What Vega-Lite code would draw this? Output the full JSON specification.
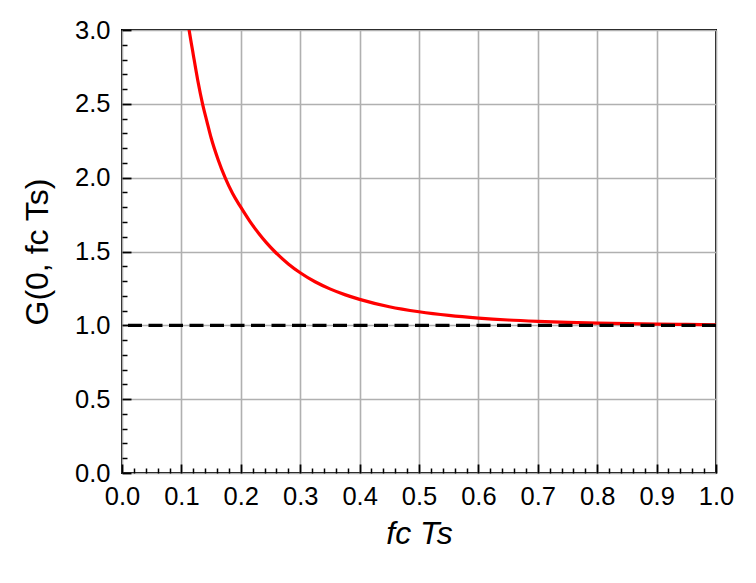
{
  "$schema": "https://vega.github.io/schema/vega-lite/v6.json",
  "width": 594,
  "height": 443,
  "autosize": {"type": "none"},
  "padding": {"left": 122, "top": 30, "right": 40, "bottom": 110},
  "background": "white",
  "config": {
    "font": "Liberation Sans",
    "view": {"stroke": "black", "strokeWidth": 2},
    "axis": {
      "domain": false,
      "labelFont": "Liberation Sans",
      "labelFontSize": 25.5,
      "labelColor": "black",
      "titleFont": "Liberation Sans",
      "titleColor": "black",
      "titleFontWeight": "normal",
      "tickColor": "black"
    }
  },
  "datasets": {
    "curve": [
      {"fcTs": 0.110, "G": 3.08},
      {"fcTs": 0.113, "G": 3.0},
      {"fcTs": 0.12, "G": 2.833},
      {"fcTs": 0.1275, "G": 2.66},
      {"fcTs": 0.1356, "G": 2.5},
      {"fcTs": 0.143, "G": 2.38},
      {"fcTs": 0.15, "G": 2.27},
      {"fcTs": 0.162, "G": 2.12},
      {"fcTs": 0.1736, "G": 2.0},
      {"fcTs": 0.186, "G": 1.894},
      {"fcTs": 0.2, "G": 1.8},
      {"fcTs": 0.215, "G": 1.706},
      {"fcTs": 0.23, "G": 1.624},
      {"fcTs": 0.243, "G": 1.56},
      {"fcTs": 0.257, "G": 1.5},
      {"fcTs": 0.28, "G": 1.416},
      {"fcTs": 0.3, "G": 1.356},
      {"fcTs": 0.325, "G": 1.295},
      {"fcTs": 0.35, "G": 1.247},
      {"fcTs": 0.375, "G": 1.208},
      {"fcTs": 0.4, "G": 1.176},
      {"fcTs": 0.45, "G": 1.126},
      {"fcTs": 0.5, "G": 1.092},
      {"fcTs": 0.55, "G": 1.067},
      {"fcTs": 0.6, "G": 1.049},
      {"fcTs": 0.65, "G": 1.036},
      {"fcTs": 0.7, "G": 1.027},
      {"fcTs": 0.75, "G": 1.02},
      {"fcTs": 0.8, "G": 1.015},
      {"fcTs": 0.85, "G": 1.011},
      {"fcTs": 0.9, "G": 1.008},
      {"fcTs": 0.95, "G": 1.006},
      {"fcTs": 1.0, "G": 1.004}
    ],
    "reference": [{"G": 1.0}]
  },
  "layer": [
    {
      "data": {"name": "curve"},
      "mark": {"type": "line", "color": "red", "strokeWidth": 3.2, "clip": true, "interpolate": "monotone"},
      "encoding": {
        "x": {
          "field": "fcTs",
          "type": "quantitative",
          "scale": {"domain": [0, 1], "nice": false, "zero": false},
          "axis": {
            "orient": "bottom",
            "title": "fc Ts",
            "titleFontSize": 32,
            "titleFontStyle": "italic",
            "titlePadding": 9,
            "values": [0, 0.1, 0.2, 0.3, 0.4, 0.5, 0.6, 0.7, 0.8, 0.9, 1.0],
            "format": ".1f",
            "grid": true,
            "gridColor": "#b0b0b0",
            "gridWidth": 1.6,
            "tickSize": -9,
            "tickWidth": 1.8,
            "labelPadding": 20,
            "labelFlush": false,
            "labelOverlap": false
          }
        },
        "y": {
          "field": "G",
          "type": "quantitative",
          "scale": {"domain": [0, 3], "nice": false, "zero": false},
          "axis": {
            "orient": "left",
            "title": "G(0, fc Ts)",
            "titleFontSize": 32,
            "titlePadding": 20,
            "values": [0, 0.5, 1.0, 1.5, 2.0, 2.5, 3.0],
            "format": ".1f",
            "grid": true,
            "gridColor": "#b0b0b0",
            "gridWidth": 1.6,
            "tickSize": -9,
            "tickWidth": 1.8,
            "labelPadding": 21,
            "labelFlush": false,
            "labelOverlap": false
          }
        }
      }
    },
    {
      "data": {"name": "reference"},
      "mark": {"type": "rule", "color": "black", "strokeWidth": 3.4, "strokeDash": [14, 6.5]},
      "encoding": {
        "y": {"field": "G", "type": "quantitative", "axis": null}
      }
    },
    {
      "data": {"name": "curve"},
      "mark": {"type": "point", "opacity": 0},
      "encoding": {
        "x": {
          "field": "fcTs",
          "type": "quantitative",
          "axis": {
            "orient": "bottom",
            "title": null,
            "labels": false,
            "grid": false,
            "values": [0.02, 0.04, 0.06, 0.08, 0.12, 0.14, 0.16, 0.18, 0.22, 0.24, 0.26, 0.28, 0.32, 0.34, 0.36, 0.38, 0.42, 0.44, 0.46, 0.48, 0.52, 0.54, 0.56, 0.58, 0.62, 0.64, 0.66, 0.68, 0.72, 0.74, 0.76, 0.78, 0.82, 0.84, 0.86, 0.88, 0.92, 0.94, 0.96, 0.98],
            "tickSize": -5,
            "tickWidth": 1.5
          }
        },
        "y": {
          "field": "G",
          "type": "quantitative",
          "axis": {
            "orient": "left",
            "title": null,
            "labels": false,
            "grid": false,
            "values": [0.1, 0.2, 0.3, 0.4, 0.6, 0.7, 0.8, 0.9, 1.1, 1.2, 1.3, 1.4, 1.6, 1.7, 1.8, 1.9, 2.1, 2.2, 2.3, 2.4, 2.6, 2.7, 2.8, 2.9],
            "tickSize": -5,
            "tickWidth": 1.5
          }
        }
      }
    }
  ],
  "resolve": {"axis": {"x": "independent", "y": "independent"}}
}
